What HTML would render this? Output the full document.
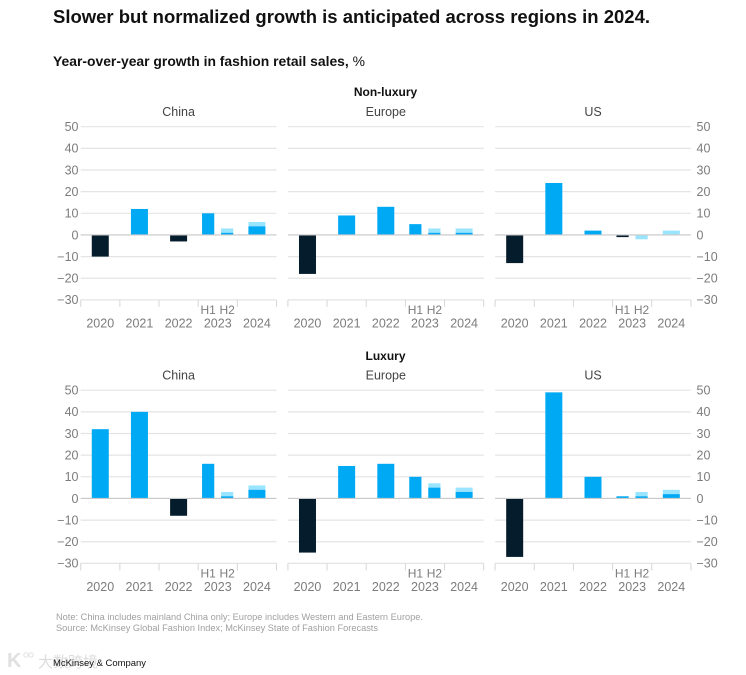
<!DOCTYPE html>
<html lang="en">
<head>
<meta charset="utf-8">
<title>Fashion retail sales growth</title>
<style>
  html, body { margin: 0; padding: 0; background: #fff; }
  body { width: 746px; height: 675px; overflow: hidden; }
  svg { display: block; font-family: "Liberation Sans", "Noto Sans CJK SC", sans-serif; }
</style>
</head>
<body>
<svg id="chart" width="746" height="675" viewBox="0 0 746 675" xmlns="http://www.w3.org/2000/svg">
  <text x="53" y="23" font-size="18" font-weight="bold" fill="#111" textLength="597" lengthAdjust="spacingAndGlyphs">Slower but normalized growth is anticipated across regions in 2024.</text>
  <text x="53" y="66" font-size="13.5" fill="#111" textLength="312" lengthAdjust="spacingAndGlyphs"><tspan font-weight="bold">Year-over-year growth in fashion retail sales,</tspan> %</text>
  <text x="385.5" y="96" font-size="12" font-weight="bold" fill="#111" text-anchor="middle">Non-luxury</text>
  <text x="385.5" y="360" font-size="12" font-weight="bold" fill="#111" text-anchor="middle">Luxury</text>
  <text x="56" y="620" font-size="9" fill="#a0a0a0" textLength="367" lengthAdjust="spacingAndGlyphs">Note: China includes mainland China only; Europe includes Western and Eastern Europe.</text>
  <text x="56" y="631" font-size="9" fill="#a0a0a0" textLength="322" lengthAdjust="spacingAndGlyphs">Source: McKinsey Global Fashion Index; McKinsey State of Fashion Forecasts</text>
  <text x="38" y="667" font-size="15" fill="#dcdcdc">大数跨境</text>
  <text x="7" y="667" font-size="20" font-weight="bold" fill="#e0e0e0">K</text>
  <circle cx="26" cy="655" r="2.2" fill="none" stroke="#e0e0e0" stroke-width="1"></circle>
  <circle cx="31" cy="655" r="2.2" fill="none" stroke="#e0e0e0" stroke-width="1"></circle>
  <text x="53" y="666" font-size="9" fill="#111" textLength="93" lengthAdjust="spacingAndGlyphs">McKinsey &amp; Company</text>
  <g id="panels"></g>
</svg>
<script>
// Categories and axis labels
const years = ["2020", "2021", "2022", "2023", "2024"];
const periods = ["2020", "2021", "2022", "2023-H1", "2023-H2", "2024"];
const yTicks = [50, 40, 30, 20, 10, 0, -10, -20, -30];
const regions = ["China", "Europe", "US"];
const segments = ["Non-luxury", "Luxury"];

// Solid values per period (negative values are drawn dark)
const nonLuxuryChinaBase = [-10, 12, -3, 10, 1, 4];
const nonLuxuryEuropeBase = [-18, 9, 13, 5, 1, 1];
const nonLuxuryUsBase = [-13, 24, 2, -1, 0, 0];
const luxuryChinaBase = [32, 40, -8, 16, 1, 4];
const luxuryEuropeBase = [-25, 15, 16, 10, 5, 3];
const luxuryUsBase = [-27, 49, 10, 1, 1, 2];

// Light forecast range stacked on top of the solid value
const nonLuxuryChinaRange = [0, 0, 0, 0, 2, 2];
const nonLuxuryEuropeRange = [0, 0, 0, 0, 2, 2];
const nonLuxuryUsRange = [0, 0, 0, 0, -2, 2];
const luxuryChinaRange = [0, 0, 0, 0, 2, 2];
const luxuryEuropeRange = [0, 0, 0, 0, 2, 2];
const luxuryUsRange = [0, 0, 0, 0, 2, 2];

const baseSeries = [
  [nonLuxuryChinaBase, nonLuxuryEuropeBase, nonLuxuryUsBase],
  [luxuryChinaBase, luxuryEuropeBase, luxuryUsBase]
];
const rangeSeries = [
  [nonLuxuryChinaRange, nonLuxuryEuropeRange, nonLuxuryUsRange],
  [luxuryChinaRange, luxuryEuropeRange, luxuryUsRange]
];

const NS = "http://www.w3.org/2000/svg";
const root = document.getElementById("panels");
const PANEL_W = 195.8;
const UNIT = 2.165;

function panelLeft(col) { return 80.7 + col * 207.2; }
function axisTop(row) { return row === 0 ? 126.7 : 390.2; }
function yScale(row, v) { return axisTop(row) + (50 - v) * UNIT; }
function slotWidth() { return PANEL_W / years.length; }
function xCenter(col, p) {
  const left = panelLeft(col), s = slotWidth();
  if (p < 3) return left + (p + 0.5) * s;
  if (p === 3) return left + 3.5 * s - 9.6;
  if (p === 4) return left + 3.5 * s + 9.4;
  return left + 4.5 * s;
}
function barWidth(p) { return (p === 3 || p === 4) ? 12.2 : 17; }

function make(tag, attrs, text) {
  const el = document.createElementNS(NS, tag);
  for (const k in attrs) el.setAttribute(k, attrs[k]);
  if (text !== undefined) el.textContent = text;
  root.appendChild(el);
  return el;
}
function fmt(v) { return v < 0 ? "\u2212" + Math.abs(v) : String(v); }
function slug(s) { return s.toLowerCase().replace(/[^a-z0-9]+/g, "-"); }

function drawBar(row, col, p, from, to, fill, label) {
  if (from === to) return;
  const y0 = yScale(row, Math.max(from, to));
  const y1 = yScale(row, Math.min(from, to));
  const w = barWidth(p);
  const el = make("rect", { x: xCenter(col, p) - w / 2, y: y0, width: w, height: y1 - y0, fill: fill });
  
  
}

segments.forEach(function (segment, row) {
  regions.forEach(function (region, col) {
    const prefix = slug(segment) + "-" + slug(region);
    const left = panelLeft(col);

    const title = make("text", { x: left + PANEL_W / 2, y: axisTop(row) - 10.5, "font-size": 12.5, fill: "#444", "text-anchor": "middle" }, region);
    
    

    yTicks.forEach(function (t) {
      const line = make("line", { x1: left, x2: left + PANEL_W, y1: yScale(row, t), y2: yScale(row, t), stroke: "#e4e4e4", "stroke-width": 1.2 });
      
      
      if (col === 0) {
        const lab = make("text", { x: 78.5, y: yScale(row, t) + 4.3, "font-size": 12.5, fill: "#7c7c7c", "text-anchor": "end" }, fmt(t));
        
        
      }
      if (col === 2) {
        const lab = make("text", { x: 696.5, y: yScale(row, t) + 4.3, "font-size": 12.5, fill: "#7c7c7c" }, fmt(t));
        
        
      }
    });

    const base = baseSeries[row][col];
    const range = rangeSeries[row][col];
    periods.forEach(function (period, p) {
      const v = base[p];
      const r = range[p];
      drawBar(row, col, p, v, v + r, "#99e4ff", prefix + '-range-' + period);
      drawBar(row, col, p, 0, v, v < 0 ? "#051c2c" : "#00a9f4", prefix + '-bar-' + period);
    });

    const zero = make("line", { x1: left, x2: left + PANEL_W, y1: yScale(row, 0), y2: yScale(row, 0), stroke: "#c9c9c9", "stroke-width": 1.2 });
    
    

    const bottom = yScale(row, -30);
    for (let i = 0; i <= years.length; i++) {
      const tx = left + i * slotWidth();
      const tick = make("line", { x1: tx, x2: tx, y1: bottom, y2: bottom + 7, stroke: "#d6d6d6", "stroke-width": 1 });
      
      
    }

    years.forEach(function (year, i) {
      const lab = make("text", { x: left + (i + 0.5) * slotWidth(), y: bottom + 27.7, "font-size": 12.5, fill: "#7c7c7c", "text-anchor": "middle" }, year);
      
      
    });

    const h1 = make("text", { x: xCenter(col, 3), y: bottom + 14, "font-size": 12, fill: "#7c7c7c", "text-anchor": "middle" }, "H1");
    
    
    const h2 = make("text", { x: xCenter(col, 4), y: bottom + 14, "font-size": 12, fill: "#7c7c7c", "text-anchor": "middle" }, "H2");
    
    
  });
});
</script>
</body>
</html>
